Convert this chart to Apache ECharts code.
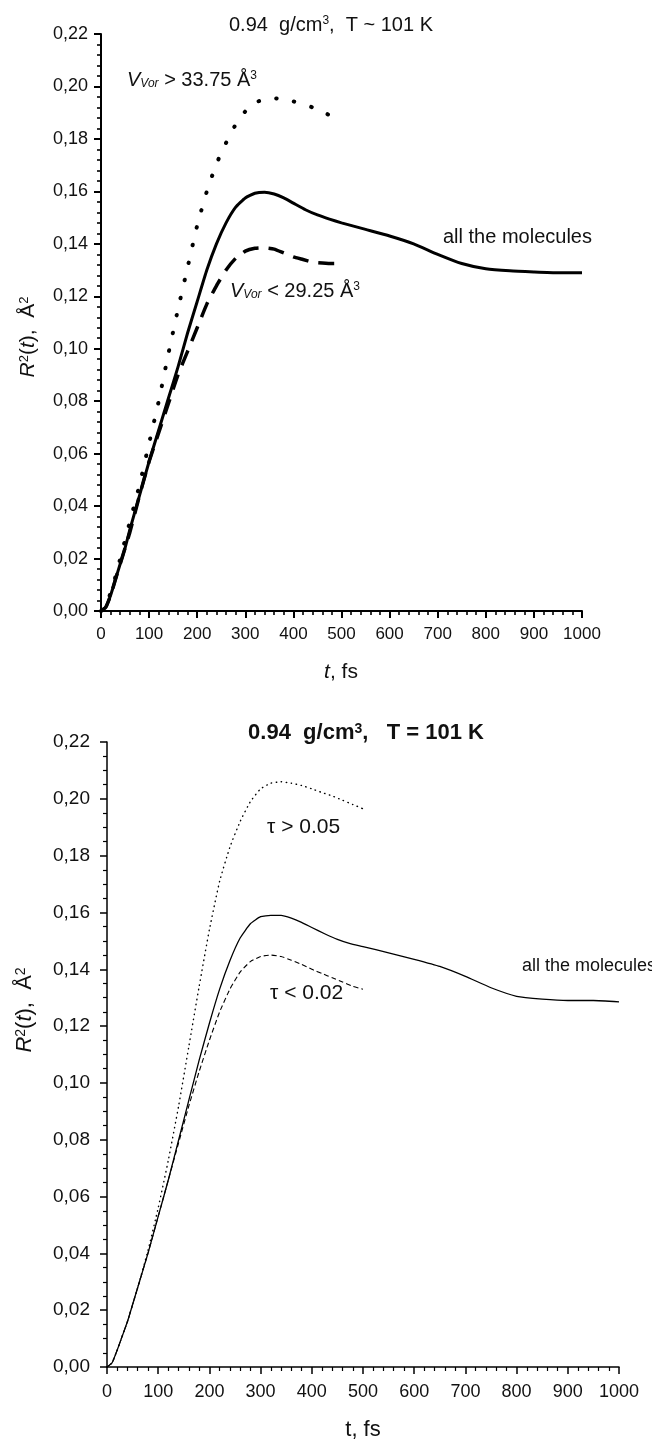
<!DOCTYPE html>
<html><head><meta charset="utf-8">
<script src="https://cdn.jsdelivr.net/npm/echarts@6/dist/echarts.min.js"></script>
<style>html,body{margin:0;padding:0;background:#fff}#c{width:652px;height:1443px}</style>
</head><body><div id="c"></div><script>
// ---------- top panel data (t in fs, R^2 in A^2) ----------
const topAllT = [0,10,20,30,40,50,60,80,100,120,140,160,180,200,220,240,260,280,300,320,340,360,380,400,425,450,475,500,550,600,650,700,750,800,850,900,950,1000];
const topAllV = [0,0.0015,0.006,0.012,0.018,0.024,0.031,0.044,0.057,0.069,0.081,0.093,0.106,0.118,0.130,0.140,0.148,0.154,0.1575,0.1593,0.1597,0.159,0.1575,0.1555,0.153,0.151,0.1494,0.148,0.1455,0.143,0.140,0.136,0.1325,0.1305,0.1297,0.1293,0.129,0.129];
const topBigT = [0,10,20,30,40,50,60,80,100,120,140,160,180,200,220,240,260,280,300,320,340,360,380,400,420,440,460,480,490];
const topBigV = [0,0.002,0.007,0.013,0.020,0.027,0.034,0.048,0.064,0.080,0.098,0.115,0.131,0.147,0.160,0.1705,0.1785,0.1855,0.1905,0.1937,0.1952,0.1955,0.195,0.1943,0.1933,0.192,0.1905,0.1885,0.1875];
const topSmallT = [0,10,20,30,40,50,60,80,100,120,140,160,180,200,220,240,260,280,300,320,340,360,380,400,420,440,460,480,490];
const topSmallV = [0,0.0015,0.006,0.012,0.018,0.024,0.030,0.044,0.057,0.068,0.079,0.090,0.099,0.108,0.117,0.124,0.130,0.1345,0.1372,0.1383,0.1385,0.138,0.1365,0.135,0.134,0.133,0.1327,0.1325,0.1325];
// ---------- bottom panel data ----------
const botAllT = [0,10,20,30,40,50,60,80,100,120,140,160,180,200,220,240,260,280,300,320,340,360,380,400,425,450,475,500,550,600,650,700,750,800,850,900,950,1000];
const botAllV = [0,0.0015,0.006,0.011,0.016,0.022,0.028,0.040,0.053,0.066,0.080,0.094,0.108,0.121,0.133,0.143,0.151,0.156,0.1585,0.159,0.159,0.158,0.1565,0.1547,0.1525,0.1505,0.149,0.148,0.1458,0.1435,0.141,0.1375,0.1335,0.1305,0.1295,0.129,0.129,0.1285];
const botHighT = [0,10,20,30,40,50,60,80,100,120,140,160,180,200,220,240,260,280,300,320,340,360,380,400,420,440,460,480,500];
const botHighV = [0,0.0015,0.006,0.011,0.016,0.022,0.028,0.041,0.056,0.073,0.092,0.113,0.134,0.154,0.171,0.183,0.192,0.199,0.2035,0.2055,0.206,0.2055,0.2047,0.2035,0.2022,0.201,0.1995,0.198,0.1965];
const botLowT = [0,10,20,30,40,50,60,80,100,120,140,160,180,200,220,240,260,280,300,320,340,360,380,400,420,440,460,480,500];
const botLowV = [0,0.0015,0.006,0.011,0.016,0.022,0.028,0.040,0.053,0.066,0.079,0.092,0.104,0.115,0.125,0.133,0.139,0.1427,0.1445,0.145,0.1445,0.1432,0.1417,0.140,0.1385,0.137,0.1355,0.134,0.133];
// axis ranges / ticks
const xMin = 0, xMax = 1000, xStep = 100;
const yMin = 0, yMax = 0.22, yStep = 0.02;

const pairs = (t, v) => t.map((x, i) => [x, v[i]]);
const FF = "'Liberation Sans', Arial, sans-serif";
const fmtY = v => v.toFixed(2).replace('.', ',');
const fmtX = v => String(Math.round(v));

function xAx(idx, w, fs, margin) {
  return {
    type: 'value', gridIndex: idx, min: xMin, max: xMax, interval: xStep,
    axisLine: {show: true, onZero: false, lineStyle: {color: '#000', width: w}},
    axisTick: {show: true, inside: false, length: 7, lineStyle: {color: '#000', width: w}},
    minorTick: {show: true, splitNumber: 5, length: 4, lineStyle: {color: '#000', width: w * 0.8}},
    splitLine: {show: false},
    axisLabel: {color: '#111', fontSize: fs, fontFamily: FF, margin: margin, formatter: fmtX, showMinLabel: true, showMaxLabel: true}
  };
}
function yAx(idx, w, fs, margin, minorSplit) {
  return {
    type: 'value', gridIndex: idx, min: yMin, max: yMax, interval: yStep,
    axisLine: {show: true, onZero: false, lineStyle: {color: '#000', width: w}},
    axisTick: {show: true, inside: false, length: 7, lineStyle: {color: '#000', width: w}},
    minorTick: {show: true, splitNumber: minorSplit, length: 4, lineStyle: {color: '#000', width: w * 0.8}},
    splitLine: {show: false},
    axisLabel: {color: '#111', fontSize: fs, fontFamily: FF, margin: margin, formatter: fmtY, showMinLabel: true, showMaxLabel: true}
  };
}
function line(xi, data, lw, type, cap) {
  return {
    type: 'line', xAxisIndex: xi, yAxisIndex: xi, data: data, showSymbol: false,
    smooth: 0.15,
    lineStyle: {color: '#000', width: lw, type: type, cap: cap || 'butt', join: 'round'}, silent: true, animation: false, z: 3
  };
}
function txt(x, y, text, fs, opts) {
  opts = opts || {};
  const bold = opts.bold ? 'bold' : 'normal';
  const sub = Math.round(fs * 0.62);
  return {
    type: 'text', x: x, y: y, rotation: opts.rot || 0, z: 10,
    style: {
      text: text, fontSize: fs, fontFamily: FF, fontWeight: bold, fill: '#111',
      align: opts.align || 'left', verticalAlign: 'middle',
      rich: {
        n: {fontSize: fs, fontFamily: FF, fontWeight: bold, fill: '#111'},
        i: {fontSize: fs, fontFamily: FF, fontStyle: 'italic', fontWeight: bold, fill: '#111'},
        s: {fontSize: sub, fontFamily: FF, fontWeight: bold, fill: '#111', verticalAlign: 'top'},
        b: {fontSize: sub, fontFamily: FF, fontStyle: 'italic', fill: '#111', verticalAlign: 'bottom'}
      }
    }
  };
}

const chart = echarts.init(document.getElementById('c'), null, {renderer: 'canvas'});
chart.setOption({
  backgroundColor: '#fff',
  animation: false,
  grid: [
    {left: 101, top: 34, width: 481, height: 577},
    {left: 107, top: 742, width: 512, height: 625}
  ],
  xAxis: [xAx(0, 2, 17, 15), xAx(1, 1.5, 18, 16)],
  yAxis: [yAx(0, 2, 18, 13, 5), yAx(1, 1.5, 19, 17, 4)],
  series: [
    line(0, pairs(topAllT, topAllV), 3, 'solid'),
    line(0, pairs(topBigT, topBigV), 4, [0.5, 17.5], 'round'),
    line(0, pairs(topSmallT, topSmallV), 3.5, [16, 10]),
    line(1, pairs(botAllT, botAllV), 1.3, 'solid'),
    line(1, pairs(botHighT, botHighV), 1.4, [0.5, 4.5], 'round'),
    line(1, pairs(botLowT, botLowV), 1.1, [5, 3])
  ],
  graphic: [
    // top panel
    txt(331, 25, '0.94  g/cm{s|3},  T ~ 101 K', 20, {align: 'center'}),
    txt(127, 80, '{i|V}{b|Vor} > 33.75 Å{s|3}', 20),
    txt(230, 291, '{i|V}{b|Vor} < 29.25 Å{s|3}', 20),
    txt(443, 237, 'all the molecules', 20),
    txt(341, 672, '{i|t}, fs', 21, {align: 'center'}),
    txt(28, 337, '{i|R}{s|2}({i|t}),  Å{s|2}', 21, {align: 'center', rot: Math.PI / 2}),
    // bottom panel
    txt(366, 733, '0.94  g/cm{s|3},   T = 101 K', 22, {align: 'center', bold: true}),
    txt(267, 827, 'τ > 0.05', 21),
    txt(270, 993, 'τ < 0.02', 21),
    txt(522, 966, 'all the molecules', 18),
    txt(363, 1430, 't, fs', 22, {align: 'center'}),
    txt(25, 1010, '{i|R}{s|2}({i|t}),  Å{s|2}', 22, {align: 'center', rot: Math.PI / 2})
  ]
});
</script></body></html>
